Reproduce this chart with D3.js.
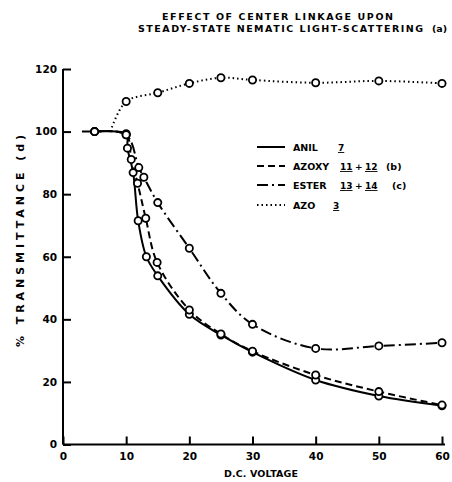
<!DOCTYPE html>
<html>
<head>
<meta charset="utf-8">
<script src="https://cdn.jsdelivr.net/npm/d3@7"></script>
<style>
  body { margin: 0; background: #fff; }
  text { font-family: "DejaVu Sans", sans-serif; font-weight: bold; fill: #000; }
</style>
</head>
<body>
<div id="chart"></div>
<script>
// tick values
const voltTicks = [0, 10, 20, 30, 40, 50, 60];
const transTicks = [0, 20, 40, 60, 80, 100, 120];

// measured points (D.C. voltage, % transmittance)
const anilV = [5, 10, 10.2, 11.1, 11.9, 13.2, 15, 20, 25, 30, 40, 50, 60];
const anilT = [100, 99.3, 94.7, 86.9, 71.5, 60, 53.9, 41.6, 35, 29.5, 20.6, 15.5, 12.4];
const azoxyV = [5, 10, 10.8, 11.8, 13.1, 14.9, 20, 25, 30, 40, 50, 60];
const azoxyT = [100, 99, 91.1, 83.5, 72.3, 58.2, 43, 35.3, 29.8, 22.2, 16.9, 12.6];
const esterV = [5, 10, 12, 12.8, 15, 20, 25, 30, 40, 50, 60];
const esterT = [100, 99, 88.5, 85.4, 77.3, 62.7, 48.3, 38.4, 30.7, 31.5, 32.5];
const azoV = [10, 15, 20, 25, 30, 40, 50, 60];
const azoT = [109.6, 112.4, 115.4, 117.2, 116.5, 115.6, 116.2, 115.4];

// where the drawn curves begin (no circle there)
const anilLead = [[3, 100]];
const azoLead = [[7.5, 100]];

const width = 452, height = 482;

const svg = d3.select('#chart')
  .append('svg')
  .attr('width', width)
  .attr('height', height);

const x = d3.scaleLinear().domain([0, 60]).range([63, 442]);
const y = d3.scaleLinear().domain([0, 120]).range([444.5, 69]);

// title
svg.append('text').attr('x', 162).attr('y', 20)
  .attr('font-size', 9.5).attr('textLength', 231).attr('lengthAdjust', 'spacing')
  .text('EFFECT OF CENTER LINKAGE UPON');
svg.append('text').attr('x', 138).attr('y', 32)
  .attr('font-size', 9.5).attr('textLength', 285).attr('lengthAdjust', 'spacing')
  .text('STEADY-STATE NEMATIC LIGHT-SCATTERING');
svg.append('text').attr('x', 432).attr('y', 32)
  .attr('font-size', 9.5).text('(a)');

// axes
const xAxis = g => g
  .attr('transform', `translate(0,${y(0)})`)
  .call(d3.axisBottom(x).tickValues(voltTicks).tickSize(-8).tickPadding(8).tickFormat(d3.format('d')))
  .call(g => g.select('.domain').attr('d', `M${x(0)},0H${x(60) + 3}`));

const yAxis = g => g
  .attr('transform', `translate(${x(0)},0)`)
  .call(d3.axisLeft(y).tickValues(transTicks).tickSize(-8).tickPadding(6).tickFormat(d3.format('d')))
  .call(g => g.select('.domain').attr('d', `M0,${y(0)}V${y(120)}`));

svg.append('g').call(xAxis);
svg.append('g').call(yAxis);

svg.selectAll('.domain, .tick line').attr('stroke', '#000').attr('stroke-width', 2);
svg.selectAll('.tick text')
  .attr('font-family', '"DejaVu Sans", sans-serif')
  .attr('font-weight', 'bold').attr('font-size', 10.5).attr('fill', '#000');

// axis titles
svg.append('text').attr('x', 261).attr('y', 477).attr('text-anchor', 'middle')
  .attr('font-size', 9.5).attr('textLength', 74).attr('lengthAdjust', 'spacing')
  .text('D.C. VOLTAGE');
svg.append('text')
  .attr('transform', 'translate(24,241) rotate(-90)')
  .attr('text-anchor', 'middle').attr('font-size', 11)
  .attr('textLength', 212).attr('lengthAdjust', 'spacing')
  .text('% TRANSMITTANCE (d)');

const zip = (vs, ts) => vs.map((v, i) => [v, ts[i]]);

const series = [
  { pts: zip(anilV, anilT), lead: anilLead, dash: null },
  { pts: zip(azoxyV, azoxyT), lead: [], dash: '7,4' },
  { pts: zip(esterV, esterT), lead: [], dash: '11,4,2,4' },
  { pts: zip(azoV, azoT), lead: azoLead, dash: '1.5,3' }
];

const line = d3.line()
  .x(d => x(d[0]))
  .y(d => y(d[1]))
  .curve(d3.curveCatmullRom.alpha(0.5));

svg.append('g')
  .selectAll('path')
  .data(series)
  .join('path')
    .attr('d', d => line(d.lead.concat(d.pts)))
    .attr('fill', 'none')
    .attr('stroke', '#000')
    .attr('stroke-width', 2)
    .attr('stroke-dasharray', d => d.dash);

svg.append('g')
  .selectAll('circle')
  .data(series.flatMap(s => s.pts))
  .join('circle')
    .attr('cx', d => x(d[0]))
    .attr('cy', d => y(d[1]))
    .attr('r', 3.6)
    .attr('fill', '#fff')
    .attr('stroke', '#000')
    .attr('stroke-width', 1.8);

// legend
const legendItems = [
  { name: 'ANIL', num: [['7', 338]], note: null, dash: null },
  { name: 'AZOXY', num: [['11', 340], ['+', 355], ['12', 365]], note: ['(b)', 386], dash: '7,4' },
  { name: 'ESTER', num: [['13', 340], ['+', 355], ['14', 365]], note: ['(c)', 392], dash: '11,4,2,4' },
  { name: 'AZO', num: [['3', 333]], note: null, dash: '1.5,3' }
];
const legendY = [147, 166, 185, 205];

const lg = svg.append('g')
  .selectAll('g')
  .data(legendItems)
  .join('g')
    .attr('transform', (d, i) => `translate(0,${legendY[i]})`);

lg.append('line')
  .attr('x1', 257).attr('x2', 285)
  .attr('stroke', '#000').attr('stroke-width', 2)
  .attr('stroke-dasharray', d => d.dash);

lg.append('text').attr('x', 293).attr('y', 4).attr('font-size', 9.5).text(d => d.name);

lg.each(function (d) {
  const g = d3.select(this);
  d.num.forEach(([t, px]) => {
    g.append('text').attr('x', px).attr('y', 4).attr('font-size', 9)
      .attr('text-decoration', t === '+' ? null : 'underline')
      .text(t);
  });
  if (d.note) {
    g.append('text').attr('x', d.note[1]).attr('y', 4).attr('font-size', 9.5).text(d.note[0]);
  }
});
</script>
</body>
</html>
